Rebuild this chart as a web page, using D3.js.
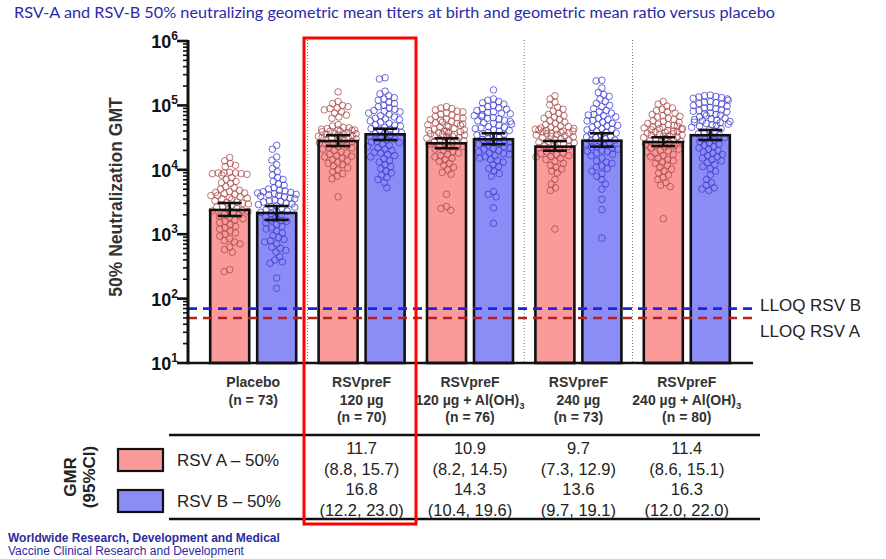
<!DOCTYPE html>
<html>
<head>
<meta charset="utf-8">
<script src="https://cdn.jsdelivr.net/npm/d3@7"></script>
<style>
  body { margin: 0; background: #fff; }
  svg { display: block; }
</style>
</head>
<body>
<div id="chart-area"></div>
<script>
var width = 886,
    height = 559;

// ---- data ----
var groups = ["Placebo", "RSVpreF 120", "RSVpreF 120 Al", "RSVpreF 240", "RSVpreF 240 Al"];
var groupLabels = [
    ["Placebo", "(n = 73)"],
    ["RSVpreF", "120 µg", "(n = 70)"],
    ["RSVpreF", "120 µg + Al(OH)|3", "(n = 76)"],
    ["RSVpreF", "240 µg", "(n = 73)"],
    ["RSVpreF", "240 µg + Al(OH)|3", "(n = 80)"]
];

// GMT bars and 95% CI
var gmtA   = [2380, 28000, 25800, 22900, 27000];
var gmtALo = [1920, 23400, 21600, 19800, 23400];
var gmtAHi = [3050, 34400, 30800, 28000, 32000];
var gmtB   = [2140, 35600, 29800, 28300, 34400];
var gmtBLo = [1660, 29000, 24900, 22900, 29000];
var gmtBHi = [2740, 43400, 36900, 36900, 41500];

// individual titers (log10)
var indA = [
  [4.19,4.14,4.10,4.07,4.05,3.96,3.95,3.95,3.94,3.94,3.93,3.92,3.95,3.88,3.85,3.82,3.80,3.79,3.74,3.72,3.70,3.68,3.66,3.65,3.64,3.62,3.60,3.60,3.58,3.56,3.55,3.54,3.52,3.50,3.48,3.47,3.45,3.43,3.42,3.40,3.38,3.36,3.35,3.33,3.30,3.28,3.26,3.24,3.22,3.20,3.18,3.15,3.12,3.10,3.08,3.05,3.02,3.00,2.97,2.93,2.90,2.85,2.80,2.76,2.72,2.45,2.42,3.57,3.49,3.37,3.31,3.63,2.88],
  [5.21,5.06,5.03,5.00,4.98,4.96,4.95,4.93,4.90,4.88,4.85,4.82,4.80,4.68,4.66,4.65,4.64,4.63,4.62,4.61,4.60,4.60,4.59,4.58,4.57,4.56,4.55,4.54,4.53,4.52,4.51,4.50,4.49,4.48,4.47,4.46,4.44,4.42,4.40,4.38,4.36,4.34,4.32,4.30,4.28,4.26,4.24,4.22,4.20,4.18,4.16,4.14,4.12,4.10,4.08,4.06,4.03,4.00,3.97,3.94,3.90,3.86,3.58,4.62,4.55,4.50,4.35,4.21,4.45,4.70],
  [4.98,4.96,4.95,4.93,4.91,4.90,4.88,4.86,4.85,4.83,4.81,4.80,4.78,4.77,4.75,4.74,4.72,4.71,4.70,4.68,4.67,4.66,4.64,4.63,4.62,4.61,4.60,4.59,4.58,4.57,4.56,4.55,4.54,4.53,4.52,4.51,4.50,4.48,4.47,4.46,4.45,4.44,4.42,4.41,4.40,4.38,4.37,4.34,4.32,4.30,4.28,4.26,4.24,4.22,4.20,4.18,4.16,4.13,4.10,4.07,4.04,4.00,3.96,3.93,3.62,3.43,3.40,3.37,4.79,4.73,4.60,4.55,4.49,4.43,4.36,4.69],
  [5.15,5.10,5.05,5.01,4.97,4.94,4.91,4.88,4.86,4.84,4.82,4.80,4.78,4.76,4.74,4.72,4.70,4.68,4.66,4.65,4.64,4.63,4.62,4.61,4.60,4.59,4.58,4.57,4.56,4.55,4.54,4.53,4.52,4.51,4.50,4.48,4.46,4.44,4.42,4.40,4.38,4.36,4.34,4.32,4.30,4.28,4.26,4.24,4.22,4.20,4.18,4.16,4.13,4.10,4.07,4.04,4.01,3.98,3.95,3.85,3.78,3.72,3.68,3.08,4.62,4.57,4.47,4.43,4.37,4.25,4.21,4.67,4.60],
  [5.06,5.02,4.99,4.96,4.94,4.92,4.90,4.88,4.86,4.84,4.82,4.80,4.78,4.76,4.75,4.74,4.72,4.71,4.70,4.68,4.67,4.66,4.65,4.64,4.63,4.62,4.61,4.60,4.59,4.58,4.57,4.56,4.55,4.54,4.53,4.52,4.51,4.50,4.49,4.47,4.45,4.44,4.42,4.40,4.38,4.36,4.34,4.32,4.30,4.28,4.26,4.24,4.22,4.20,4.18,4.16,4.14,4.12,4.10,4.07,4.04,4.01,3.98,3.95,3.92,3.88,3.85,3.80,3.76,3.74,3.24,4.83,4.69,4.64,4.59,4.54,4.48,4.43,4.37,4.29]
];
var indB = [
  [4.38,4.32,4.20,4.15,4.08,4.02,3.97,3.92,3.88,3.85,3.82,3.78,3.76,3.72,3.70,3.68,3.66,3.65,3.64,3.63,3.62,3.61,3.60,3.58,3.56,3.55,3.53,3.52,3.50,3.48,3.47,3.46,3.44,3.42,3.40,3.38,3.36,3.34,3.32,3.30,3.28,3.26,3.22,3.20,3.18,3.15,3.12,3.10,3.08,3.05,3.02,2.98,2.95,2.92,2.88,2.85,2.80,2.78,2.75,2.72,2.65,2.60,2.57,2.55,2.32,2.16,3.59,3.51,3.35,3.21,3.67,2.90,3.43],
  [5.43,5.41,5.22,5.18,5.15,5.12,5.10,5.08,5.05,5.03,5.00,4.98,4.96,4.94,4.92,4.90,4.88,4.86,4.84,4.82,4.80,4.78,4.76,4.74,4.72,4.70,4.68,4.66,4.64,4.62,4.60,4.58,4.56,4.54,4.52,4.50,4.48,4.46,4.44,4.42,4.40,4.38,4.36,4.34,4.32,4.30,4.27,4.24,4.22,4.20,4.17,4.14,4.12,4.08,4.05,4.02,3.98,3.95,3.92,3.88,3.85,3.80,3.72,4.91,4.79,4.69,4.57,4.43,4.26,4.63],
  [5.24,5.10,5.08,5.06,5.04,5.02,5.00,4.98,4.96,4.94,4.92,4.90,4.89,4.87,4.85,4.83,4.81,4.79,4.77,4.75,4.73,4.71,4.69,4.67,4.65,4.64,4.62,4.60,4.58,4.56,4.54,4.52,4.50,4.48,4.46,4.44,4.42,4.40,4.38,4.36,4.34,4.32,4.30,4.28,4.26,4.24,4.22,4.20,4.18,4.16,4.14,4.12,4.08,4.05,4.02,3.98,3.94,3.90,3.66,3.62,3.58,3.41,3.17,4.95,4.88,4.84,4.80,4.76,4.72,4.66,4.61,4.55,4.47,4.41,4.33,4.25],
  [5.39,5.38,5.27,5.20,5.17,5.14,5.10,5.06,5.03,5.00,4.98,4.95,4.92,4.90,4.88,4.86,4.84,4.82,4.80,4.78,4.76,4.74,4.72,4.70,4.68,4.66,4.64,4.62,4.60,4.58,4.56,4.54,4.52,4.50,4.48,4.46,4.44,4.42,4.40,4.38,4.36,4.34,4.32,4.30,4.28,4.26,4.24,4.22,4.18,4.14,4.10,4.06,4.02,3.98,3.94,3.90,3.85,3.78,3.70,3.54,3.38,2.94,4.85,4.77,4.69,4.63,4.57,4.51,4.45,4.35,4.29,4.12,4.04],
  [5.16,5.15,5.14,5.13,5.12,5.10,5.08,5.06,5.05,5.04,5.02,5.00,4.99,4.97,4.95,4.93,4.92,4.90,4.88,4.87,4.86,4.84,4.82,4.80,4.79,4.78,4.76,4.75,4.74,4.72,4.71,4.70,4.68,4.66,4.64,4.62,4.60,4.58,4.56,4.54,4.52,4.50,4.48,4.46,4.44,4.42,4.40,4.38,4.36,4.34,4.32,4.30,4.28,4.26,4.24,4.22,4.20,4.18,4.16,4.14,4.11,4.08,4.05,4.02,3.98,3.92,3.85,3.80,3.76,3.72,3.70,3.68,5.11,5.03,4.96,4.91,4.85,4.77,4.73,4.69]
];

var lloqA = 50, lloqB = 70;

// GMR vs placebo (table), one entry per active group
var gmrA   = [11.7, 10.9, 9.7, 11.4];
var gmrALo = [8.8, 8.2, 7.3, 8.6];
var gmrAHi = [15.7, 14.5, 12.9, 15.1];
var gmrB   = [16.8, 14.3, 13.6, 16.3];
var gmrBLo = [12.2, 10.4, 9.7, 12.0];
var gmrBHi = [23.0, 19.6, 19.1, 22.0];

var yTicks = [1, 2, 3, 4, 5, 6]; // exponents

// ---- colours ----
var fillA = "#fa9a9a", fillB = "#8c8cf6";
var dotA = "#a84848", dotB = "#3c3cd0";
var font = "'Liberation Sans', Arial, sans-serif";

var svg = d3.select("#chart-area").append("svg")
    .attr("width", width)
    .attr("height", height);

// title
svg.append("text")
    .attr("x", 14).attr("y", 18)
    .attr("textLength", 761).attr("lengthAdjust", "spacingAndGlyphs")
    .style("font-family", "Lato, 'Open Sans', sans-serif")
    .style("font-size", "14.5px")
    .style("fill", "#2a2aa8")
    .text("RSV-A and RSV-B 50% neutralizing geometric mean titers at birth and geometric mean ratio versus placebo");

var y = d3.scaleLog().domain([10, 1e6]).range([363, 41]);
var x = d3.scaleBand().domain(groups).range([199, 741]);
var xSub = d3.scaleBand().domain(["A", "B"]).range([-43, 43]).paddingInner(0.17);

var axisLeft = 188, axisRight = 753, base = y(10);

// dotted separators between groups
svg.selectAll(".sep")
    .data(groups.slice(1))
    .enter().append("line")
    .attr("x1", d => x(d)).attr("x2", d => x(d))
    .attr("y1", 40).attr("y2", base)
    .style("stroke", "#777").style("stroke-width", 1)
    .style("stroke-dasharray", "1,2");

// bars data
var bars = [];
groups.forEach(function(g, i) {
    bars.push({g: g, s: "A", v: gmtA[i], lo: gmtALo[i], hi: gmtAHi[i], pts: indA[i]});
    bars.push({g: g, s: "B", v: gmtB[i], lo: gmtBLo[i], hi: gmtBHi[i], pts: indB[i]});
});
function cx(d) { return x(d.g) + x.bandwidth() / 2 + xSub(d.s) + xSub.bandwidth() / 2; }

svg.selectAll(".barfill")
    .data(bars)
    .enter().append("rect")
    .attr("x", d => cx(d) - xSub.bandwidth() / 2)
    .attr("width", xSub.bandwidth())
    .attr("y", d => y(d.v))
    .attr("height", d => base - y(d.v))
    .style("fill", d => d.s == "A" ? fillA : fillB);

// simple beeswarm on pixel positions
function swarm(vals, r, maxW) {
    var pts = vals.map(v => ({py: y(Math.pow(10, v))}))
        .sort((a, b) => a.py - b.py);
    var placed = [];
    var d2 = 2 * r;
    pts.forEach(function(p) {
        var blocks = [];
        placed.forEach(function(q) {
            var dy = Math.abs(q.py - p.py);
            if (dy < d2) {
                var w = Math.sqrt(d2 * d2 - dy * dy);
                blocks.push([q.dx - w, q.dx + w]);
            }
        });
        var cands = [0];
        blocks.forEach(b => { cands.push(b[0], b[1]); });
        cands.sort((a, b) => Math.abs(a) - Math.abs(b));
        var best = null;
        for (var k = 0; k < cands.length; k++) {
            var c = cands[k];
            var ok = blocks.every(b => c <= b[0] + 1e-6 || c >= b[1] - 1e-6);
            if (ok) { best = c; break; }
        }
        if (best === null || Math.abs(best) > maxW) {
            // no free slot inside the swarm width: overlap inside it
            best = (placed.length % 2 ? 1 : -1) * maxW * ((placed.length * 7) % 10) / 10;
        }
        p.dx = best;
        placed.push(p);
    });
    return pts;
}

bars.forEach(function(b) {
    var pts = swarm(b.pts, 2.9, 20);
    svg.append("g").selectAll("circle")
        .data(pts)
        .enter().append("circle")
        .attr("cx", d => cx(b) + d.dx)
        .attr("cy", d => d.py)
        .attr("r", 3.3)
        .style("fill", "none")
        .style("stroke", b.s == "A" ? dotA : dotB)
        .style("stroke-opacity", 0.85)
        .style("stroke-width", 0.9);
});

// bar outlines
svg.selectAll(".barline")
    .data(bars)
    .enter().append("rect")
    .attr("x", d => cx(d) - xSub.bandwidth() / 2)
    .attr("width", xSub.bandwidth())
    .attr("y", d => y(d.v))
    .attr("height", d => base - y(d.v))
    .style("fill", "none")
    .style("stroke", "#111")
    .style("stroke-width", 2.6);

// error bars
var eb = svg.selectAll(".err").data(bars).enter().append("g")
    .style("stroke", "#111").style("stroke-width", 2.6);
eb.append("line")
    .attr("x1", cx).attr("x2", cx)
    .attr("y1", d => y(d.lo)).attr("y2", d => y(d.hi));
eb.append("line")
    .attr("x1", d => cx(d) - 12).attr("x2", d => cx(d) + 12)
    .attr("y1", d => y(d.hi)).attr("y2", d => y(d.hi));
eb.append("line")
    .attr("x1", d => cx(d) - 12).attr("x2", d => cx(d) + 12)
    .attr("y1", d => y(d.lo)).attr("y2", d => y(d.lo));

// LLOQ lines
[[lloqB, "#1f1fe6", "LLOQ RSV B", -4], [lloqA, "#b42222", "LLOQ RSV A", 13]].forEach(function(l) {
    svg.append("line")
        .attr("x1", axisLeft).attr("x2", axisRight)
        .attr("y1", y(l[0])).attr("y2", y(l[0]))
        .style("stroke", l[1]).style("stroke-width", 2.6)
        .style("stroke-dasharray", "9,6");
    svg.append("text")
        .attr("x", 760).attr("y", y(l[0]) + l[3] + 6)
        .style("font-family", font).style("font-size", "17px")
        .style("fill", "#222")
        .text(l[2]);
});

// y axis (log, minor ticks)
var minor = [];
for (var e = 1; e < 6; e++) for (var m = 2; m <= 9; m++) minor.push(m * Math.pow(10, e));
svg.selectAll(".minor").data(minor).enter().append("line")
    .attr("x1", axisLeft - 5).attr("x2", axisLeft)
    .attr("y1", d => y(d)).attr("y2", d => y(d))
    .style("stroke", "#111").style("stroke-width", 1.6);
svg.selectAll(".major").data(yTicks).enter().append("line")
    .attr("x1", axisLeft - 11).attr("x2", axisLeft)
    .attr("y1", d => y(Math.pow(10, d))).attr("y2", d => y(Math.pow(10, d)))
    .style("stroke", "#111").style("stroke-width", 2.6);
var tl = svg.selectAll(".tlab").data(yTicks).enter().append("text")
    .attr("x", 178).attr("y", d => y(Math.pow(10, d)) + 7)
    .attr("text-anchor", "end")
    .style("font-family", font).style("font-weight", "bold").style("font-size", "18px")
    .style("fill", "#111");
tl.append("tspan").text("10");
tl.append("tspan").attr("dy", -8).style("font-size", "12px").text(d => d);

svg.append("line")
    .attr("x1", axisLeft).attr("x2", axisLeft)
    .attr("y1", y(1e6) - 1).attr("y2", base + 1.3)
    .style("stroke", "#111").style("stroke-width", 3);
svg.append("line")
    .attr("x1", axisLeft).attr("x2", axisRight)
    .attr("y1", base).attr("y2", base)
    .style("stroke", "#111").style("stroke-width", 2.6);

svg.append("text")
    .attr("transform", "translate(122,197) rotate(-90)")
    .attr("text-anchor", "middle")
    .style("font-family", font).style("font-weight", "bold").style("font-size", "17.5px")
    .style("fill", "#333")
    .text("50% Neutralization GMT");

// category labels
groups.forEach(function(g, i) {
    var t = svg.append("text")
        .attr("text-anchor", "middle")
        .style("font-family", font).style("font-weight", "bold").style("font-size", "14px")
        .style("fill", "#333");
    groupLabels[i].forEach(function(line, j) {
        var ts = t.append("tspan").attr("x", x(g) + x.bandwidth() / 2).attr("y", 387 + j * 17.5);
        var parts = line.split("|");
        ts.append("tspan").text(parts[0]);
        if (parts[1]) ts.append("tspan").attr("dy", 4).style("font-size", "9.5px").text(parts[1]);
    });
});

// table rules
[435, 519].forEach(function(ty) {
    svg.append("line")
        .attr("x1", 169).attr("x2", 760)
        .attr("y1", ty).attr("y2", ty)
        .style("stroke", "#111").style("stroke-width", 2.4);
});

// legend
[["RSV A \u2013 50%", fillA, 449], ["RSV B \u2013 50%", fillB, 490]].forEach(function(l) {
    svg.append("rect")
        .attr("x", 118).attr("y", l[2]).attr("width", 45).attr("height", 22)
        .style("fill", l[1]).style("stroke", "#111").style("stroke-width", 2.2);
    svg.append("text")
        .attr("x", 177).attr("y", l[2] + 17)
        .style("font-family", font).style("font-size", "17px").style("fill", "#222")
        .text(l[0]);
});
svg.append("text")
    .attr("transform", "translate(0,477) rotate(-90)")
    .attr("text-anchor", "middle")
    .style("font-family", font).style("font-weight", "bold").style("font-size", "17px")
    .style("fill", "#222")
    .selectAll("tspan").data(["GMR", "(95%CI)"]).enter().append("tspan")
    .attr("x", 0).attr("y", (d, i) => 76 + i * 19)
    .text(d => d);

// GMR values
var fmt = d3.format(".1f");
groups.slice(1).forEach(function(g, i) {
    var t = svg.append("text")
        .attr("text-anchor", "middle")
        .style("font-family", font).style("font-size", "16.5px").style("fill", "#222");
    var lines = [fmt(gmrA[i]), "(" + fmt(gmrALo[i]) + ", " + fmt(gmrAHi[i]) + ")",
                 fmt(gmrB[i]), "(" + fmt(gmrBLo[i]) + ", " + fmt(gmrBHi[i]) + ")"];
    lines.forEach(function(s, j) {
        t.append("tspan").attr("x", x(g) + x.bandwidth() / 2).attr("y", 454 + j * 20.5).text(s);
    });
});

// highlight box
svg.append("rect")
    .attr("x", 304).attr("y", 38).attr("width", 112).attr("height", 486)
    .style("fill", "none").style("stroke", "#f00").style("stroke-width", 3);

// footer
svg.append("text")
    .attr("x", 8).attr("y", 542)
    .style("font-family", font).style("font-weight", "bold").style("font-size", "12px")
    .style("fill", "#2b2ba0")
    .text("Worldwide Research, Development and Medical");
svg.append("text")
    .attr("x", 8).attr("y", 555)
    .style("font-family", font).style("font-size", "12px")
    .style("fill", "#2b2ba0")
    .text("Vaccine Clinical Research and Development");
</script>
</body>
</html>
